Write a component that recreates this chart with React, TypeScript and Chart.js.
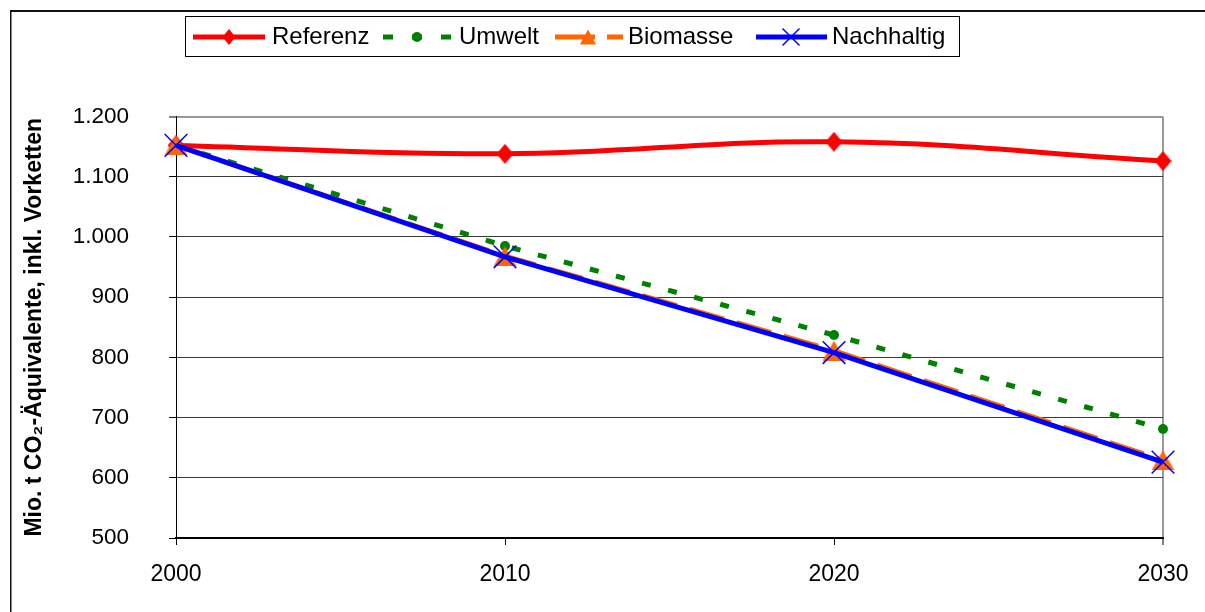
import React, { useEffect, useRef } from 'react';
import { Chart, registerables } from 'chart.js';

Chart.register(...registerables);

// ---- data ----
const years = ['2000', '2010', '2020', '2030'];
const referenz = [1152, 1138, 1158, 1126];
const umwelt = [1152, 985, 837, 681];
const biomasse = [1152, 968, 811, 629];
const nachhaltig = [1152, 967, 808, 626];
const seriesNames = ['Referenz', 'Umwelt', 'Biomasse', 'Nachhaltig'];
const yMin = 500;
const yMax = 1200;
const yStep = 100;
const yTitle = 'Mio. t CO₂-Äquivalente, inkl. Vorketten';

const RED = '#FF0000';
const GREEN = '#008000';
const ORANGE = '#FF6600';
const BLUE = '#0000FF';
const FONT = '"Liberation Sans", Arial, sans-serif';

const fmt = (v: number) =>
  v >= 1000 ? `${Math.floor(v / 1000)}.${String(v % 1000).padStart(3, '0')}` : String(v);

function makeDiamond(w: number, h: number, color: string) {
  const c = document.createElement('canvas');
  c.width = w;
  c.height = h;
  const g = c.getContext('2d')!;
  g.fillStyle = color;
  g.beginPath();
  g.moveTo(w / 2, 0);
  g.lineTo(w, h / 2);
  g.lineTo(w / 2, h);
  g.lineTo(0, h / 2);
  g.closePath();
  g.fill();
  return c;
}

function makeTriangle(w: number, h: number, color: string) {
  const c = document.createElement('canvas');
  c.width = w;
  c.height = h;
  const g = c.getContext('2d')!;
  g.fillStyle = color;
  g.beginPath();
  g.moveTo(w / 2, 0);
  g.lineTo(w, h);
  g.lineTo(0, h);
  g.closePath();
  g.fill();
  return c;
}

const framePlugin = {
  id: 'frame',
  beforeDraw(chart: any) {
    const ctx = chart.ctx;
    ctx.save();
    ctx.fillStyle = '#fff';
    ctx.fillRect(0, 0, chart.width, chart.height);
    ctx.fillStyle = '#111';
    ctx.fillRect(10, 10, chart.width - 10, 2);
    ctx.fillRect(10, 10, 1.5, chart.height - 10);
    ctx.restore();
  },
};

const legendPlugin = {
  id: 'excelLegend',
  afterDraw(chart: any) {
    const ctx = chart.ctx;
    ctx.save();
    ctx.strokeStyle = '#000';
    ctx.lineWidth = 1;
    ctx.strokeRect(185.5, 16.5, 774, 40);
    const cy = 37;
    const items = [
      { x0: 193, x1: 265, mx: 229, tx: 272, color: RED, dash: [] as number[] },
      { x0: 383, x1: 451, mx: 417, tx: 459, color: GREEN, dash: [10, 19] },
      { x0: 555, x1: 623, mx: 588, tx: 628, color: ORANGE, dash: [40, 12] },
      { x0: 756, x1: 827, mx: 791, tx: 832, color: BLUE, dash: [] as number[] },
    ];
    items.forEach((it, i) => {
      ctx.save();
      ctx.strokeStyle = it.color;
      ctx.lineWidth = 5;
      ctx.lineCap = 'butt';
      ctx.setLineDash(it.dash);
      ctx.beginPath();
      ctx.moveTo(it.x0, cy);
      ctx.lineTo(it.x1, cy);
      ctx.stroke();
      ctx.restore();
      ctx.fillStyle = it.color;
      ctx.strokeStyle = it.color;
      if (i === 0) {
        ctx.beginPath();
        ctx.moveTo(it.mx, cy - 8);
        ctx.lineTo(it.mx + 6.5, cy);
        ctx.lineTo(it.mx, cy + 8);
        ctx.lineTo(it.mx - 6.5, cy);
        ctx.closePath();
        ctx.fill();
      } else if (i === 1) {
        ctx.beginPath();
        ctx.arc(it.mx, cy, 5, 0, Math.PI * 2);
        ctx.fill();
      } else if (i === 2) {
        ctx.beginPath();
        ctx.moveTo(it.mx, cy - 7.5);
        ctx.lineTo(it.mx + 8, cy + 7.5);
        ctx.lineTo(it.mx - 8, cy + 7.5);
        ctx.closePath();
        ctx.fill();
      } else {
        ctx.lineWidth = 1.5;
        ctx.beginPath();
        ctx.moveTo(it.mx - 8.5, cy - 8.5);
        ctx.lineTo(it.mx + 8.5, cy + 8.5);
        ctx.moveTo(it.mx + 8.5, cy - 8.5);
        ctx.lineTo(it.mx - 8.5, cy + 8.5);
        ctx.stroke();
      }
      ctx.fillStyle = '#000';
      ctx.font = `24px ${FONT}`;
      ctx.textBaseline = 'middle';
      ctx.textAlign = 'left';
      ctx.fillText(seriesNames[i], it.tx, cy);
    });
    ctx.restore();
  },
};

export default function App() {
  const ref = useRef<HTMLCanvasElement>(null);

  useEffect(() => {
    const canvas = ref.current!;
    const diamond = makeDiamond(17, 20, RED);
    const triangle = makeTriangle(23, 20, ORANGE);

    const chart = new Chart(canvas, {
      type: 'line',
      data: {
        labels: years,
        datasets: [
          {
            label: seriesNames[0],
            data: referenz,
            borderColor: RED,
            backgroundColor: RED,
            borderWidth: 5,
            tension: 0.4,
            pointStyle: diamond as any,
            pointRadius: 9,
            clip: false as any,
            order: 4,
          },
          {
            label: seriesNames[1],
            data: umwelt,
            borderColor: GREEN,
            backgroundColor: GREEN,
            borderWidth: 5,
            borderDash: [9, 18],
            borderCapStyle: 'butt',
            tension: 0,
            pointStyle: 'circle',
            pointRadius: 5,
            pointBackgroundColor: GREEN,
            pointBorderColor: GREEN,
            pointBorderWidth: 0,
            clip: false as any,
            order: 3,
          },
          {
            label: seriesNames[2],
            data: biomasse,
            borderColor: ORANGE,
            backgroundColor: ORANGE,
            borderWidth: 5,
            borderDash: [36, 13],
            borderCapStyle: 'butt',
            tension: 0,
            pointStyle: triangle as any,
            pointRadius: 11,
            clip: false as any,
            order: 2,
          },
          {
            label: seriesNames[3],
            data: nachhaltig,
            borderColor: BLUE,
            backgroundColor: BLUE,
            borderWidth: 5,
            tension: 0,
            pointStyle: 'crossRot',
            pointRadius: 16,
            pointBorderColor: BLUE,
            pointBorderWidth: 1.5,
            clip: false as any,
            order: 1,
          },
        ],
      },
      options: {
        animation: false,
        responsive: false,
        maintainAspectRatio: false,
        events: [],
        layout: { padding: { top: 116.5, right: 42, bottom: 0, left: 0 } },
        plugins: {
          legend: { display: false },
          tooltip: { enabled: false },
          title: { display: false },
        },
        scales: {
          x: {
            type: 'category',
            offset: false,
            grid: {
              drawOnChartArea: true,
              color: (c: any) => (c.index === years.length - 1 ? '#999' : 'rgba(0,0,0,0)'),
              lineWidth: (c: any) => (c.index === years.length - 1 ? 2 : 1),
              tickColor: '#000',
              tickWidth: 1,
              tickLength: 7,
            },
            border: { color: '#000', width: 2 },
            ticks: {
              color: '#000',
              font: { family: FONT, size: 23 },
              padding: 16,
              maxRotation: 0,
              autoSkip: false,
            },
            afterFit: (s: any) => {
              s.height = 74;
            },
          },
          y: {
            min: yMin,
            max: yMax,
            grid: {
              color: (c: any) => (c.tick && c.tick.value === yMax ? '#999' : '#3a3a3a'),
              lineWidth: (c: any) => (c.tick && c.tick.value === yMax ? 2 : 1),
              tickColor: '#000',
              tickWidth: 1,
              tickLength: 7,
            },
            border: { color: '#000', width: 1 },
            ticks: {
              stepSize: yStep,
              color: '#000',
              font: { family: FONT, size: 22.5 },
              padding: 40,
              callback: (v: any) => fmt(Number(v)),
            },
            title: {
              display: true,
              text: yTitle,
              color: '#000',
              font: { family: FONT, size: 23, weight: 'bold' },
              padding: { top: 21, bottom: 0 },
            },
            afterFit: (s: any) => {
              s.width = 176;
            },
          },
        },
      },
      plugins: [framePlugin, legendPlugin],
    } as any);

    return () => chart.destroy();
  }, []);

  return (
    <div style={{ position: 'absolute', left: 0, top: 0, width: 1205, height: 612, background: '#fff' }}>
      <canvas ref={ref} width={1205} height={612} style={{ display: 'block', width: 1205, height: 612 }} />
    </div>
  );
}
